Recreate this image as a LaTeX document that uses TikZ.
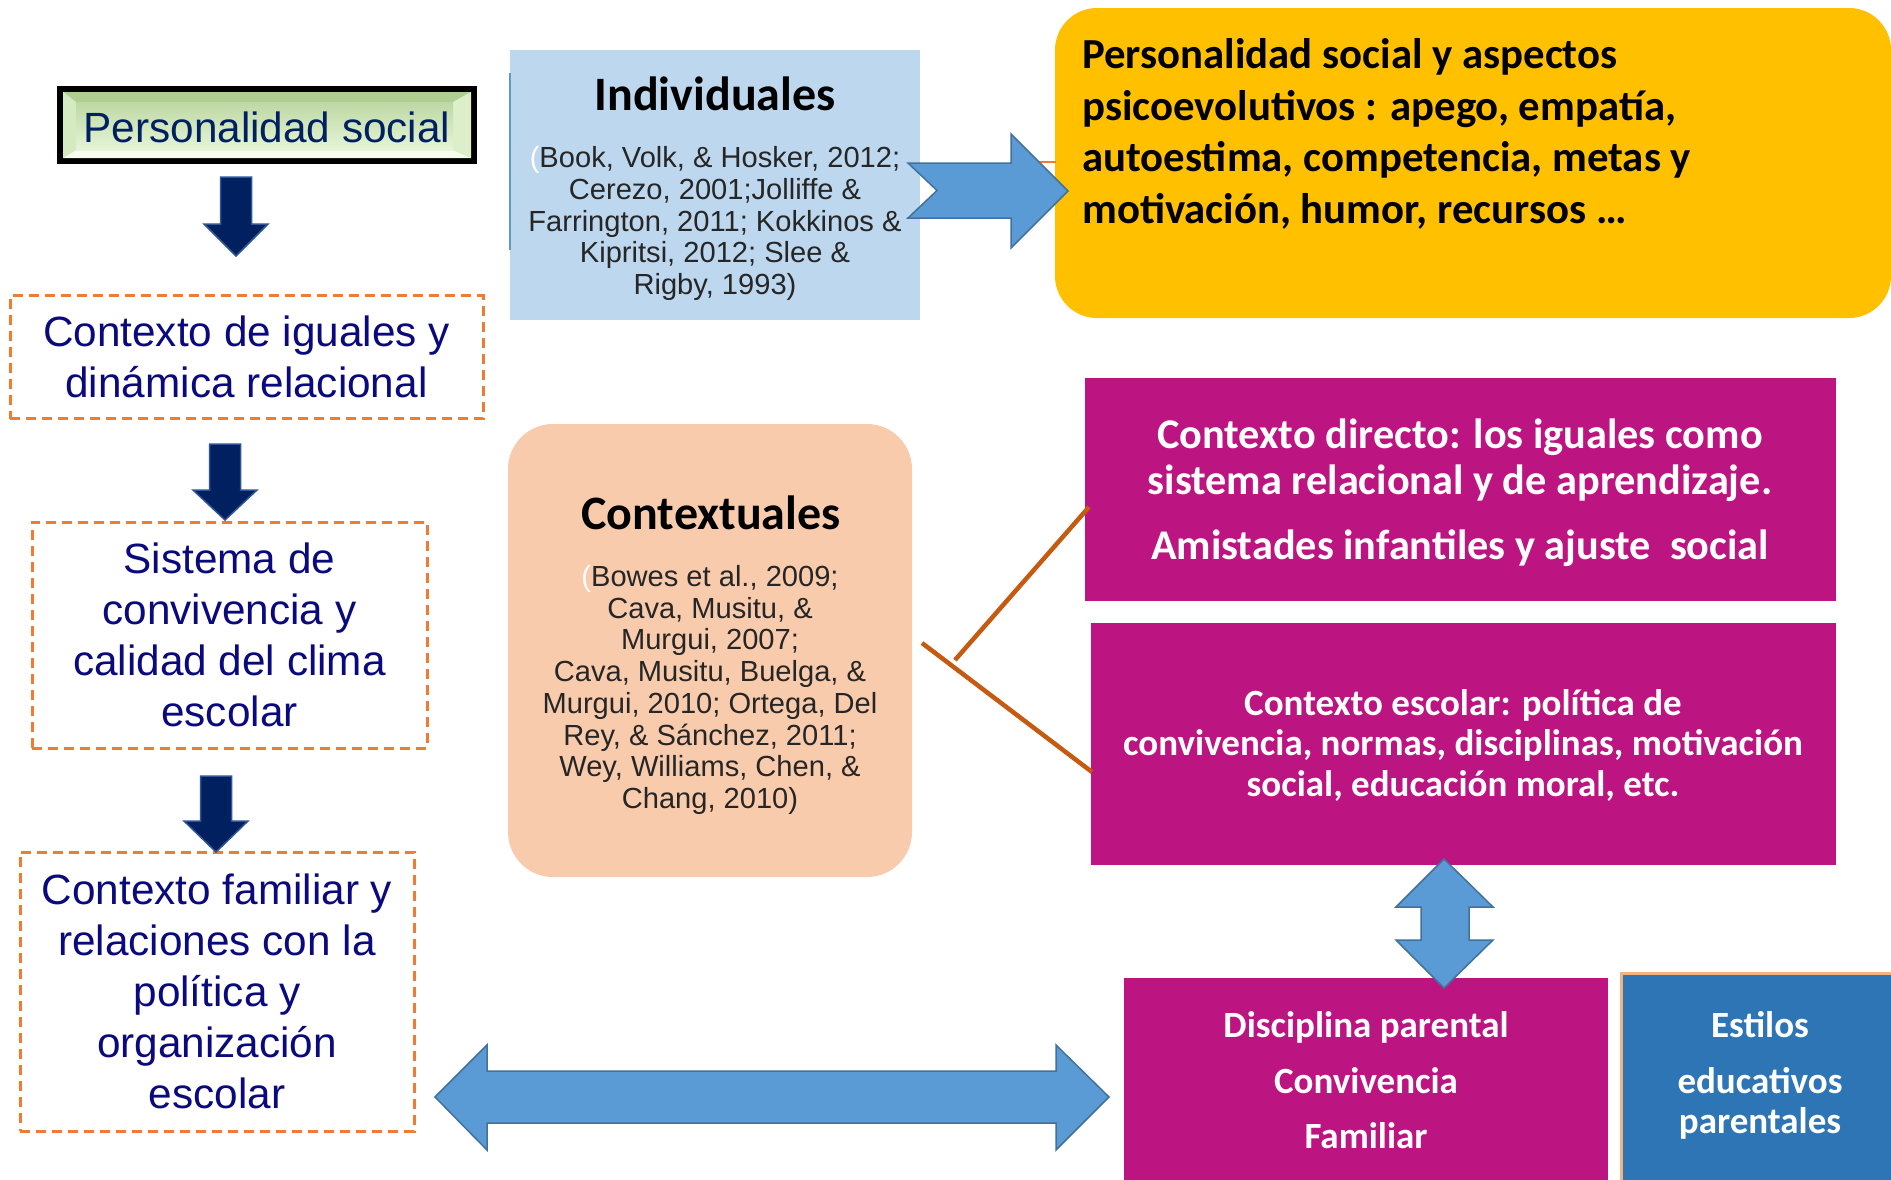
\documentclass[tikz,border=0pt]{standalone}
\usepackage{fontspec}
\setmainfont{Liberation Sans}
\newfontfamily\calib{Carlito}
\definecolor{navytext}{HTML}{0A0A7E}
\definecolor{pstext}{HTML}{002060}
\definecolor{dorange}{HTML}{ED7D31}
\definecolor{lblue}{HTML}{BDD7EE}
\definecolor{peach}{HTML}{F8CBAD}
\definecolor{gold}{HTML}{FFC000}
\definecolor{magent}{HTML}{BC1480}
\definecolor{steel}{HTML}{2E75B6}
\definecolor{lorange}{HTML}{F4B183}
\definecolor{arrfill}{HTML}{5B9BD5}
\definecolor{arrdraw}{HTML}{41719C}
\definecolor{navyfill}{HTML}{002060}
\definecolor{navydraw}{HTML}{2F5597}
\definecolor{rust}{HTML}{C55A11}
\definecolor{citegray}{HTML}{262626}
\definecolor{bevbase}{RGB}{200,224,178}
\definecolor{bevtop}{RGB}{176,206,146}
\definecolor{bevbot}{RGB}{246,252,238}
\definecolor{bevleft}{RGB}{214,234,194}
\definecolor{bevright}{RGB}{220,238,202}
\definecolor{facetop}{RGB}{190,216,164}
\definecolor{facebot}{RGB}{230,245,214}
\newcommand\navyarr[4]{%
  \draw[navyarrow] ({#1-15.5},#2) -- ({#1+15.5},#2) -- ({#1+15.5},#3) -- ({#1+32},#3)
    -- (#1,#4) -- ({#1-32},#3) -- ({#1-15.5},#3) -- cycle;}
\begin{document}
\begin{tikzpicture}[x=1pt,y=-1pt,
  dashbox/.style={draw=dorange, line width=3pt, dash pattern=on 10pt off 6pt,
    inner sep=0pt, align=center, text=navytext,
    font=\fontsize{42.3}{51}\selectfont},
  plainbox/.style={inner sep=0pt},
  cite/.style={align=center, text=citegray, inner sep=0pt,
    font=\fontsize{29.1}{31.7}\selectfont},
  titlecal/.style={inner sep=0pt, font=\calib\bfseries\fontsize{48}{58}\selectfont},
  magtext/.style={align=center, text=white, inner sep=0pt},
  barrow/.style={fill=arrfill, draw=arrdraw, line width=1.5pt, line join=miter},
  navyarrow/.style={fill=navyfill, draw=navydraw, line width=1.5pt},
  oline/.style={draw=rust, line width=4.5pt}
]
\useasboundingbox (0,0) rectangle (1891,1179);
\clip (0,0) rectangle (1891,1179);
\fill[white] (0,0) rectangle (1891,1179);

% ---- Personalidad social (bevelled box)
\fill[black] (57,86) rectangle (477,164);
\fill[bevbase] (63,92) rectangle (471,158);
\fill[bevtop] (63,92) -- (471,92) -- (453,102) -- (76,102) -- cycle;
\fill[bevbot] (63,158) -- (471,158) -- (453,150) -- (76,150) -- cycle;
\fill[bevleft] (63,92) -- (76,102) -- (76,150) -- (63,158) -- cycle;
\fill[bevright] (471,92) -- (453,102) -- (453,150) -- (471,158) -- cycle;
\shade[top color=facetop, bottom color=facebot] (76,102) rectangle (453,150);
\node[plainbox, minimum width=420pt, minimum height=78pt, text=pstext,
      font=\fontsize{42.3}{51}\selectfont] (ps) at (267,127.5) {Personalidad social};

% ---- left column dashed boxes
\node[dashbox, minimum width=473pt, minimum height=123pt] (iguales) at (246.5,357)
  {Contexto de iguales y\\dinámica relacional};
\node[dashbox, minimum width=395pt, minimum height=226pt] (sistema) at (229.5,635)
  {Sistema de\\convivencia y\\calidad del clima\\escolar};
\node[dashbox, minimum width=394pt, minimum height=279pt] (familiar) at (217,991.5)
  {Contexto familiar y\\relaciones con la\\política y\\organización\\escolar};

% ---- navy down arrows
\navyarr{236}{177}{224}{256}
\navyarr{225}{444}{490}{520}
\navyarr{216}{776}{821}{852}

% ---- Individuales
\node[plainbox, fill=lblue, minimum width=410pt, minimum height=270pt] (ind) at (715,185) {};
\draw[arrfill, line width=1.5pt] (510,73) -- (510,250);
\node[titlecal] (indt) at (715,94) {Individuales};
\node[cite] (indc) at (715,223.5)
  {\textcolor{white}{(}Book, Volk, \& Hosker, 2012;\\Cerezo, 2001;Jolliffe \&\\Farrington, 2011; Kokkinos \&\\Kipritsi, 2012; Slee \&\\Rigby, 1993)};

% ---- Contextuales
\node[plainbox, fill=peach, rounded corners=45pt, minimum width=404pt, minimum height=453pt] (ctx) at (710,650.5) {};
\node[titlecal] (ctxt) at (711,513) {Contextuales};
\node[cite] (ctxc) at (710,690)
  {\textcolor{white}{(}Bowes et al., 2009;\\Cava, Musitu, \&\\Murgui, 2007;\\Cava, Musitu, Buelga, \&\\Murgui, 2010; Ortega, Del\\Rey, \& Sánchez, 2011;\\Wey, Williams, Chen, \&\\Chang, 2010)};

% ---- yellow box
\node[plainbox, fill=gold, rounded corners=42pt, minimum width=836pt, minimum height=310pt] (yel) at (1473,163) {};
\node[plainbox, anchor=west, align=left, font=\calib\bfseries\fontsize{42.8}{51.7}\selectfont] (yelt) at (1082,134)
  {Personalidad social y aspectos\\psicoevolutivos : apego, empatía,\\autoestima, competencia, metas y\\motivación, humor, recursos …};
\draw[dorange, line width=2.5pt] (1039,162) -- (1056,162);

% ---- notched arrow Individuales -> yellow
\draw[barrow] (908,163) -- (1011,163) -- (1011,134) -- (1068,191) -- (1011,248)
  -- (1011,218) -- (908,218) -- (937,190.5) -- cycle;

% ---- magenta boxes
\node[plainbox, fill=magent, minimum width=751pt, minimum height=223pt] (m1) at (1460.5,489.5) {};
\node[magtext, font=\calib\bfseries\fontsize{42.3}{46}\selectfont] (m1t) at (1460,492.5)
  {Contexto directo: los iguales como\\sistema relacional y de aprendizaje.\\[19pt]Amistades infantiles y ajuste~ social};
\node[plainbox, fill=magent, minimum width=745pt, minimum height=242pt] (m2) at (1463.5,744) {};
\node[magtext, font=\calib\bfseries\fontsize{37}{40.5}\selectfont] (m2t) at (1463,745)
  {Contexto escolar: política de\\convivencia, normas, disciplinas, motivación\\social, educación moral, etc.};
\node[plainbox, fill=magent, minimum width=484pt, minimum height=210pt, anchor=north west] (disc) at (1124,978) {};
\node[magtext, font=\calib\bfseries\fontsize{37}{55.5}\selectfont] (disct) at (1366,1080.5)
  {Disciplina parental\\Convivencia\\Familiar};
\node[plainbox, fill=steel, draw=lorange, line width=2.5pt, minimum width=290pt, minimum height=220pt, anchor=north west] (est) at (1620,972) {};
\node[magtext, font=\calib\bfseries\fontsize{37}{40}\selectfont] (estt) at (1760,1075.5)
  {Estilos\\[16pt]educativos\\parentales};

% ---- orange connector lines
\coordinate (j1) at (955,660);
\coordinate (j2) at (922,643);
\coordinate (e1) at (1089,507);
\coordinate (e2) at (1092,772);
\draw[oline] (j1) -- (e1);
\draw[oline] (j2) -- (e2);

% ---- double arrows
\draw[barrow] (1444,859) -- (1493,907) -- (1469,907) -- (1469,940) -- (1493,940) -- (1444,988)
  -- (1396,940) -- (1421,940) -- (1421,907) -- (1396,907) -- cycle;
\draw[barrow] (435,1097) -- (487,1045) -- (487,1071) -- (1056,1071) -- (1056,1045) -- (1109,1097)
  -- (1056,1150) -- (1056,1123) -- (487,1123) -- (487,1150) -- cycle;
\end{tikzpicture}
\end{document}
